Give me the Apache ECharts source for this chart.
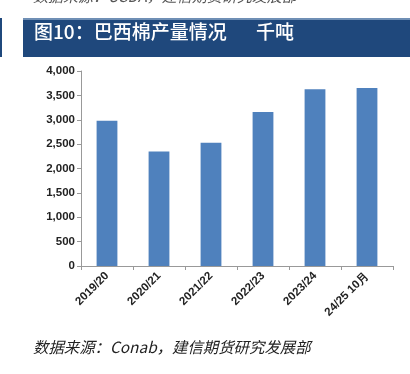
<!DOCTYPE html>
<html><head><meta charset="utf-8">
<script src="https://cdn.jsdelivr.net/npm/echarts@6/dist/echarts.min.js"></script>
<style>html,body{margin:0;padding:0;background:#fff;}#c{width:410px;height:374px;}</style>
</head><body><div id="c"></div>
<script>
const categories = ['2019/20','2020/21','2021/22','2022/23','2023/24','24/25 10月'];
const production = [2980, 2350, 2530, 3160, 3625, 3650];
const yTicks = [0, 500, 1000, 1500, 2000, 2500, 3000, 3500, 4000];

const chart = echarts.init(document.getElementById('c'), null, {renderer:'canvas'});
chart.setOption({
  animation: false,
  backgroundColor: '#ffffff',
  graphic: [
    {type:'text', left: 33, top: -11, style:{text:'数据来源：USDA，建信期货研究发展部', fill:'#555', font:'italic 15px "Noto Sans CJK SC"'}},
    {type:'rect', shape:{x:23, y:18, width:387, height:39}, style:{fill:'#1F487C'}},
    {type:'rect', shape:{x:23, y:18, width:387, height:2}, style:{fill:'#6F8FB5'}},
    {type:'rect', shape:{x:0, y:18, width:2, height:39}, style:{fill:'#1F487C'}},
    {type:'text', left: 34, top: 22, style:{text:'图10：巴西棉产量情况', fill:'#ffffff', font:'500 19px "Noto Sans CJK SC"'}},
    {type:'text', left: 256, top: 22, style:{text:'千吨', fill:'#ffffff', font:'500 19px "Noto Sans CJK SC"'}},
    {type:'text', left: 33, top: 339, style:{text:'数据来源：Conab，建信期货研究发展部', fill:'#222', font:'italic 15.4px "Noto Sans CJK SC"'}}
  ],
  grid: {left: 81, right: 17, top: 71, bottom: 108, containLabel: false},
  xAxis: {
    type: 'category', data: categories, boundaryGap: true,
    axisLine: {lineStyle: {color: '#999'}},
    axisTick: {show: true, alignWithLabel: false, length: 4, lineStyle:{color:'#999'}},
    axisLabel: {rotate: 45, interval: 0, color: '#222', fontSize: 11.5, fontWeight: 'bold', fontFamily: '"Liberation Sans Narrow", "Liberation Sans"', margin: 8}
  },
  yAxis: {
    type: 'value', min: 0, max: 4000, interval: 500,
    splitLine: {show: false},
    axisLine: {show: true, lineStyle: {color: '#999'}},
    axisTick: {show: true, length: 4, lineStyle:{color:'#999'}},
    axisLabel: {color: '#222', fontSize: 11.5, fontWeight: 'bold', fontFamily: '"Liberation Sans Narrow", "Liberation Sans"', margin: 6,
      formatter: v => yTicks.includes(v) ? v.toLocaleString('en-US') : ''}
  },
  series: [{
    type: 'bar', data: production, barWidth: '40%',
    itemStyle: {color: '#4F81BD'}
  }]
});
</script></body></html>
